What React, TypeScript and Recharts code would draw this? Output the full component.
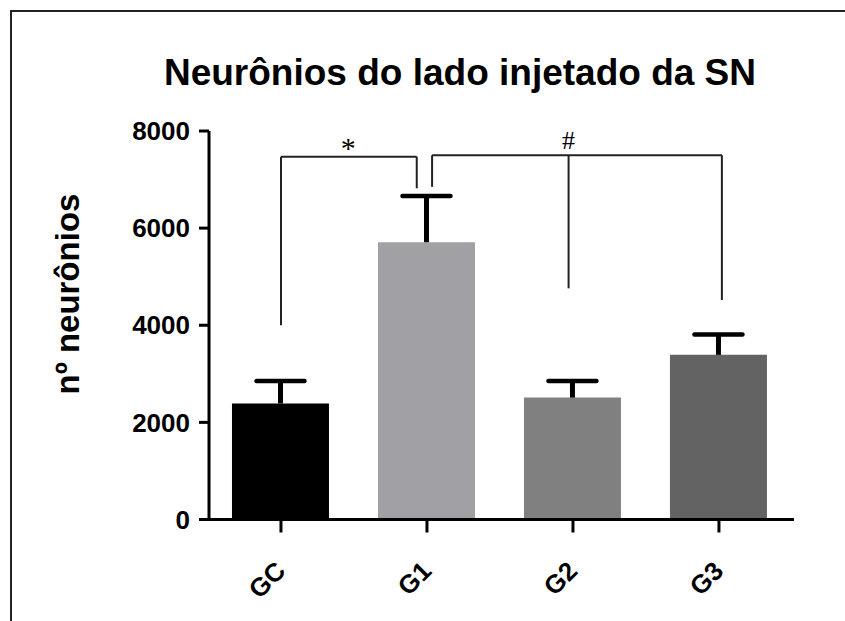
import React from "react";
import {
  Bar,
  BarChart,
  Cell,
  ReferenceDot,
  ReferenceLine,
  XAxis,
  YAxis,
} from "recharts";

// values
const categories = ["GC", "G1", "G2", "G3"];
const means = [2390, 5710, 2510, 3390];
const sems = [460, 950, 340, 420];
const barColors = ["#000000", "#a1a0a4", "#808080", "#636363"];
const yTicks = [0, 2000, 4000, 6000, 8000];

// significance brackets, as [group position, value] polylines
const starBracket = [
  [0, 4000],
  [0, 7470],
  [0.93, 7470],
  [0.93, 6820],
];
const hashTop = [
  [1.035, 7500],
  [3.02, 7500],
];
const hashLegs = [
  [1.035, 6850],
  [1.97, 4760],
  [3.02, 4520],
];
// y here is the text baseline
const marks = [
  { x: 0.46, y: 7440, text: "*", size: 30 },
  { x: 1.97, y: 7620, text: "#", size: 26 },
];

const FONT = "'Liberation Sans', Arial, sans-serif";
const SERIF = "'Liberation Serif', 'Times New Roman', serif";

const data = categories.map((name, i) => ({
  x: i,
  name,
  mean: means[i],
  sem: sems[i],
}));

// pairs of points -> line segments
const segments: { x: number; y: number }[][] = [];
for (let i = 0; i < starBracket.length - 1; i++) {
  segments.push([
    { x: starBracket[i][0], y: starBracket[i][1] },
    { x: starBracket[i + 1][0], y: starBracket[i + 1][1] },
  ]);
}
segments.push([
  { x: hashTop[0][0], y: hashTop[0][1] },
  { x: hashTop[1][0], y: hashTop[1][1] },
]);
hashLegs.forEach(([x, y]) => {
  segments.push([
    { x, y },
    { x, y: hashTop[0][1] },
  ]);
});

function ErrorShape(props: any) {
  const { x, y, width, height } = props;
  const cx = x + width / 2;
  return (
    <g>
      <line x1={cx} x2={cx} y1={y + height} y2={y} stroke="#000" strokeWidth={5} />
      <line
        x1={cx - 24}
        x2={cx + 24}
        y1={y}
        y2={y}
        stroke="#000"
        strokeWidth={4.5}
        strokeLinecap="round"
      />
    </g>
  );
}

function XTick(props: any) {
  const { x, y, payload } = props;
  return (
    <text
      transform={`translate(${x + 6},${y + 38}) rotate(-45)`}
      textAnchor="end"
      fontFamily={FONT}
      fontWeight="bold"
      fontSize={26}
      fill="#000"
    >
      {categories[payload.value]}
    </text>
  );
}

export default function App() {
  return (
    <div
      style={{
        position: "absolute",
        left: 0,
        top: 0,
        width: 845,
        height: 621,
        overflow: "hidden",
        background: "#fff",
      }}
    >
      <div
        style={{
          position: "absolute",
          left: 10,
          top: 10,
          width: 1000,
          height: 800,
          borderLeft: "2px solid #222",
          borderTop: "2px solid #222",
        }}
      />
      <svg
        width={845}
        height={621}
        style={{ position: "absolute", left: 0, top: 0, pointerEvents: "none" }}
      >
        <text
          x={460}
          y={85}
          textAnchor="middle"
          fontFamily={FONT}
          fontWeight="bold"
          fontSize={37}
          fill="#000"
        >
          Neurônios do lado injetado da SN
        </text>
        <text
          transform="translate(79,294) rotate(-90)"
          textAnchor="middle"
          fontFamily={FONT}
          fontWeight="bold"
          fontSize={33}
          fill="#000"
        >
          nº neurônios
        </text>
      </svg>
      <div style={{ position: "absolute", left: 0, top: 0 }}>
        <BarChart
          width={845}
          height={621}
          data={data}
          margin={{ top: 131, right: 51, bottom: 0, left: 0 }}
        >
          <XAxis
            dataKey="x"
            type="number"
            domain={[-0.493, 3.514]}
            ticks={[0, 1, 2, 3]}
            interval={0}
            allowDataOverflow
            axisLine={{ stroke: "#000", strokeWidth: 3 }}
            tickLine={{ stroke: "#000", strokeWidth: 3 }}
            tickSize={13}
            tick={<XTick />}
            height={101.5}
          />
          <YAxis
            type="number"
            domain={[0, 8000]}
            ticks={yTicks}
            interval={0}
            width={209}
            axisLine={{ stroke: "#000", strokeWidth: 3 }}
            tickLine={{ stroke: "#000", strokeWidth: 3 }}
            tickSize={10}
            tickMargin={9}
            tick={{ fill: "#000", fontFamily: FONT, fontWeight: "bold", fontSize: 26 }}
          />
          <Bar dataKey="mean" stackId="a" barSize={97} isAnimationActive={false}>
            {data.map((d, i) => (
              <Cell key={d.name} fill={barColors[i]} />
            ))}
          </Bar>
          <Bar
            dataKey="sem"
            stackId="a"
            barSize={97}
            isAnimationActive={false}
            shape={<ErrorShape />}
          />
          {segments.map((seg, i) => (
            <ReferenceLine
              key={i}
              segment={seg}
              stroke="#222"
              strokeWidth={2}
              ifOverflow="visible"
            />
          ))}
          {marks.map((m) => (
            <ReferenceDot
              key={m.text}
              x={m.x}
              y={m.y}
              r={0}
              ifOverflow="visible"
              shape={(p: any) => (
                <text
                  x={p.cx}
                  y={p.cy}
                  textAnchor="middle"
                  fontFamily={SERIF}
                  fontSize={m.size}
                  fill="#000"
                >
                  {m.text}
                </text>
              )}
            />
          ))}
        </BarChart>
      </div>
    </div>
  );
}
